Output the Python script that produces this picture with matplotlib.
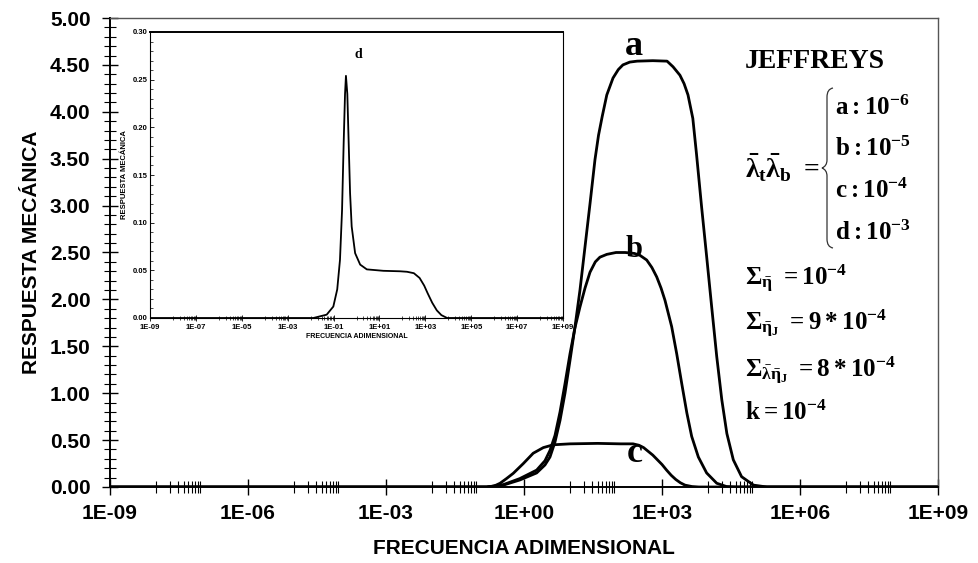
import numpy as np
import matplotlib.pyplot as plt
from matplotlib.path import Path
from matplotlib.patches import PathPatch
from matplotlib.ticker import FixedLocator, FuncFormatter, MultipleLocator

plt.rcParams['font.family'] = ['Liberation Sans Narrow', 'Liberation Sans', 'DejaVu Sans']
plt.rcParams['font.weight'] = 'bold'
plt.rcParams['mathtext.fontset'] = 'custom'
plt.rcParams['mathtext.rm'] = 'Liberation Serif:bold'
plt.rcParams['mathtext.it'] = 'Liberation Serif:bold'
plt.rcParams['mathtext.bf'] = 'Liberation Serif:bold'

# respuesta mecanica vs log10(frecuencia adimensional)
logf_a = [-9, -0.81, -0.45, -0.09, 0.275, 0.456, 0.565, 0.674, 0.783, 0.891, 1.0, 1.109, 1.217,
          1.326, 1.435, 1.543, 1.62, 1.70, 1.80, 1.935, 2.05, 2.15, 2.30, 2.46, 2.8, 3.11,
          3.24, 3.39, 3.48, 3.565, 3.67, 3.75, 3.86, 3.97, 4.08, 4.19, 4.30, 4.41, 4.55,
          4.73, 4.99, 5.28, 9]
resp_a = [0, 0, 0.02, 0.075, 0.15, 0.235, 0.32, 0.48, 0.71, 1.0, 1.35, 1.71, 2.10,
          2.56, 3.02, 3.49, 3.75, 3.95, 4.18, 4.36, 4.45, 4.50, 4.53, 4.54, 4.545, 4.54,
          4.48, 4.39, 4.30, 4.18, 3.93, 3.55, 2.99, 2.46, 1.92, 1.39, 0.93, 0.57, 0.29,
          0.11, 0.02, 0, 0]

logf_b = [-9, -0.81, -0.45, -0.09, 0.275, 0.456, 0.565, 0.674, 0.783, 0.891, 1.0, 1.109, 1.217,
          1.326, 1.435, 1.55, 1.65, 1.80, 2.0, 2.2, 2.4, 2.52, 2.667, 2.78, 2.885, 2.98,
          3.065, 3.21, 3.32, 3.43, 3.54, 3.645, 3.79, 3.97, 4.19, 4.4, 4.6, 9]
resp_b = [0, 0, 0.025, 0.09, 0.18, 0.28, 0.39, 0.55, 0.80, 1.10, 1.42, 1.70, 1.92,
          2.12, 2.29, 2.40, 2.45, 2.48, 2.50, 2.50, 2.49, 2.47, 2.42, 2.34, 2.24, 2.12,
          1.99, 1.71, 1.42, 1.10, 0.79, 0.54, 0.32, 0.15, 0.04, 0.005, 0, 0]

logf_c = [-9, -0.81, -0.65, -0.52, -0.38, -0.233, -0.015, 0.20, 0.42, 0.637, 1.0, 1.6, 2.1,
          2.37, 2.5, 2.6, 2.7, 2.8, 2.9, 3.0, 3.1, 3.2, 3.3, 3.4, 3.5, 3.65, 3.8, 9]
resp_c = [0, 0, 0.01, 0.04, 0.09, 0.146, 0.25, 0.36, 0.42, 0.45, 0.46, 0.465, 0.46,
          0.46, 0.445, 0.42, 0.38, 0.34, 0.29, 0.24, 0.18, 0.125, 0.08, 0.045, 0.02, 0.005, 0, 0]

logf_d = [-9, -1.88, -1.30, -1.01, -0.84, -0.72, -0.63, -0.56, -0.50, -0.46, -0.40, -0.34,
          -0.28, -0.21, -0.06, 0.16, 0.45, 1.17, 1.90, 2.2, 2.5, 2.75, 2.95, 3.1, 3.3, 3.5,
          3.7, 3.95, 9]
resp_d = [0, 0, 0.0035, 0.012, 0.03, 0.061, 0.113, 0.183, 0.235, 0.254, 0.235, 0.183,
          0.131, 0.096, 0.068, 0.056, 0.051, 0.0495, 0.049, 0.0485, 0.047, 0.042, 0.034, 0.026,
          0.016, 0.008, 0.003, 0, 0]

W, H = 979, 563


def fx(px):
    return px / W


def fy(py):
    return 1 - py / H


def sci_label(v, pos):
    return format(v, '.0E')


def log_ticks(ax, exps):
    ax.set_xscale('log')
    ax.xaxis.set_major_locator(FixedLocator([10.0 ** e for e in exps]))
    minors = [k * 10.0 ** (e + 1) for e in exps[:-1] for k in range(1, 10)]
    ax.xaxis.set_minor_locator(FixedLocator(minors))
    ax.xaxis.set_major_formatter(FuncFormatter(sci_label))
    ax.xaxis.set_minor_formatter(FuncFormatter(lambda v, p: ''))


fig = plt.figure(figsize=(9.79, 5.63), dpi=100)

# grafico principal
ax = fig.add_axes([fx(110), fy(487), fx(938) - fx(110), fy(18) - fy(487)])
for lf, r in [(logf_a, resp_a), (logf_b, resp_b), (logf_c, resp_c)]:
    ax.plot(10.0 ** np.array(lf), r, color='black', lw=2.0, solid_joinstyle='round')
ax.set_xlim(1e-9, 1e9)
ax.set_ylim(0, 5)
log_ticks(ax, [-9, -6, -3, 0, 3, 6, 9])
ax.yaxis.set_major_locator(MultipleLocator(0.5))
ax.yaxis.set_minor_locator(MultipleLocator(0.1))
ax.yaxis.set_major_formatter(FuncFormatter(lambda v, p: '%.2f' % v))
ax.tick_params(which='major', direction='inout', length=12, width=1, labelsize=15)
ax.tick_params(which='minor', direction='inout', length=8, width=0.8)
ax.tick_params(axis='x', which='major', pad=6)
ax.tick_params(axis='y', which='major', pad=8)
ax.set_xlabel('FRECUENCIA ADIMENSIONAL', fontsize=15, fontweight='bold', labelpad=12)
ax.set_ylabel('RESPUESTA MECÁNICA', fontsize=15, fontweight='bold', labelpad=6)
ax.spines['left'].set_linewidth(1.4)
ax.spines['bottom'].set_linewidth(1.4)
for s in ['top', 'right']:
    ax.spines[s].set_linewidth(1.0)
    ax.spines[s].set_color('#555555')

ax.text(10 ** 2.39, 4.70, 'a', fontsize=26, family='Liberation Serif', fontweight='bold',
        ha='center', va='center')
ax.text(10 ** 2.40, 2.53, 'b', fontsize=22, family='Liberation Serif', fontweight='bold',
        ha='center', va='center')
ax.text(10 ** 2.40, 0.36, 'c', fontsize=26, family='Liberation Serif', fontweight='bold',
        ha='center', va='center')

# recuadro con la curva d
ins = fig.add_axes([fx(150), fy(318), fx(563) - fx(150), fy(32) - fy(318)])
ins.plot(10.0 ** np.array(logf_d), resp_d, color='black', lw=1.3)
ins.set_xlim(1e-9, 1e9)
ins.set_ylim(0, 0.30)
log_ticks(ins, [-9, -7, -5, -3, -1, 1, 3, 5, 7, 9])
ins.yaxis.set_major_locator(MultipleLocator(0.05))
ins.yaxis.set_minor_locator(MultipleLocator(0.01))
ins.yaxis.set_major_formatter(FuncFormatter(lambda v, p: '%.2f' % v))
ins.tick_params(axis='x', which='major', direction='inout', length=4, width=0.6, labelsize=5.5, pad=2)
ins.tick_params(axis='x', which='minor', direction='inout', length=3, width=0.5)
ins.tick_params(axis='y', which='major', direction='in', length=3, width=0.6, labelsize=5.5, pad=2)
ins.tick_params(axis='y', which='minor', direction='in', length=2, width=0.5)
ins.set_xlabel('FRECUENCIA ADIMENSIONAL', fontsize=5, fontweight='bold', labelpad=2)
ins.set_ylabel('RESPUESTA MECÁNICA', fontsize=5.5, fontweight='bold', labelpad=3)
for s in ins.spines.values():
    s.set_linewidth(0.8)
ins.spines['top'].set_linewidth(1.4)
ins.text(10 ** 0.07, 0.276, 'd', fontsize=10, family='Liberation Serif', fontweight='bold',
         ha='center', va='center')

# parametros del modelo
serif = dict(family='Liberation Serif', fontweight='bold', color='black')
fig.text(fx(745), fy(68), 'JEFFREYS', fontsize=20, va='baseline', **serif)
fig.text(fx(745), fy(168), r'$\bar{\lambda}_t\bar{\lambda}_b\ =$', fontsize=20, va='center', **serif)
fig.text(fx(835), fy(115), r'$a:10^{-6}$', fontsize=18, va='baseline', **serif)
fig.text(fx(835), fy(156), r'$b:10^{-5}$', fontsize=18, va='baseline', **serif)
fig.text(fx(835), fy(198), r'$c:10^{-4}$', fontsize=18, va='baseline', **serif)
fig.text(fx(835), fy(240), r'$d:10^{-3}$', fontsize=18, va='baseline', **serif)
fig.text(fx(745), fy(285), r'$\Sigma_{\bar{\eta}}\ =10^{-4}$', fontsize=18, va='baseline', **serif)
fig.text(fx(745), fy(330), r'$\Sigma_{\bar{\eta}_J}\ =9*10^{-4}$', fontsize=18, va='baseline', **serif)
fig.text(fx(745), fy(377), r'$\Sigma_{\bar{\lambda}\bar{\eta}_J}\ =8*10^{-4}$', fontsize=18,
         va='baseline', **serif)
fig.text(fx(745), fy(420), r'$k=10^{-4}$', fontsize=18, va='baseline', **serif)

# llave
brace = [(833, 88), (827, 89), (827, 97), (827, 160), (827, 166), (822, 168),
         (827, 170), (827, 176), (827, 239), (827, 247), (833, 248)]
codes = [Path.MOVETO, Path.CURVE3, Path.CURVE3, Path.LINETO, Path.CURVE3, Path.CURVE3,
         Path.CURVE3, Path.CURVE3, Path.LINETO, Path.CURVE3, Path.CURVE3]
verts = [(fx(x), fy(y)) for x, y in brace]
fig.patches.append(PathPatch(Path(verts, codes), transform=fig.transFigure,
                             fill=False, lw=0.9, color='#333333'))

fig.savefig('out.png', dpi=100)
